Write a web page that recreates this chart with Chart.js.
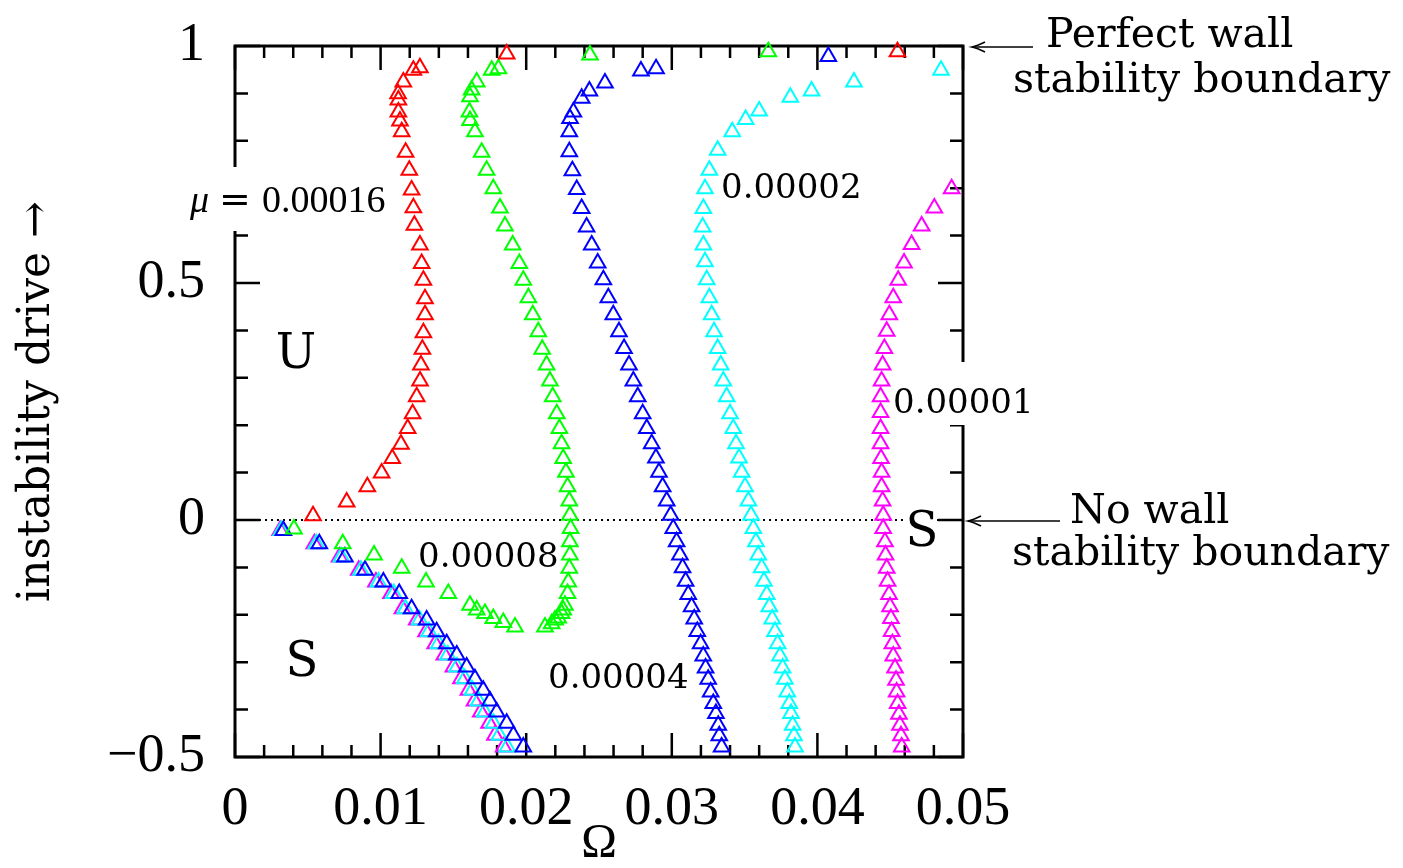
<!doctype html>
<html>

<head>
    <title>Stability boundaries</title>
    <meta http-equiv="Content-Type" content="text/html;charset=UTF-8">
    <script src="https://cdn.jsdelivr.net/npm/chart.js@4/dist/chart.umd.min.js"></script>
    <style>
        body { margin: 0; background: #fff; }
        canvas { display: block; }
    </style>
</head>

<body>
    <canvas id="grafico" width="1403" height="868"></canvas>
</body>
<script>

    // [Omega, instability drive] for each wall parameter mu
    var mu00016 = [
        [0.00536, 0.009], [0.00767, 0.038], [0.00909, 0.070], [0.01007, 0.099], [0.01080, 0.130],
        [0.01140, 0.160], [0.01186, 0.193], [0.01220, 0.224], [0.01248, 0.260], [0.01271, 0.293],
        [0.01277, 0.327], [0.01287, 0.360], [0.01294, 0.395], [0.01305, 0.433], [0.01305, 0.467],
        [0.01294, 0.506], [0.01282, 0.541], [0.01270, 0.580], [0.01232, 0.622], [0.01225, 0.659],
        [0.01213, 0.696], [0.01197, 0.738], [0.01172, 0.776], [0.01145, 0.819], [0.01133, 0.842],
        [0.01122, 0.861], [0.01122, 0.886], [0.01120, 0.899], [0.01156, 0.924], [0.01225, 0.949],
        [0.01270, 0.954], [0.01866, 0.983], [0.04550, 0.988]
    ];

    var mu00008 = [
        [0.03663, 0.988], [0.02438, 0.981], [0.01809, 0.952], [0.01763, 0.949], [0.01660, 0.924],
        [0.01625, 0.907], [0.01614, 0.893], [0.01610, 0.861], [0.01614, 0.843], [0.01648, 0.819],
        [0.01694, 0.776], [0.01728, 0.738], [0.01774, 0.699], [0.01820, 0.658], [0.01854, 0.620],
        [0.01907, 0.580], [0.01953, 0.541], [0.01980, 0.506], [0.02015, 0.469], [0.02045, 0.433],
        [0.02083, 0.397], [0.02110, 0.360], [0.02140, 0.327], [0.02163, 0.293], [0.02182, 0.260],
        [0.02210, 0.224], [0.02228, 0.193], [0.02243, 0.161], [0.02254, 0.130], [0.02273, 0.101],
        [0.02284, 0.070], [0.02296, 0.040], [0.02300, 0.010], [0.02305, -0.018], [0.02300, -0.046],
        [0.02300, -0.074], [0.02296, -0.102], [0.02289, -0.131], [0.02284, -0.155], [0.02266, -0.180],
        [0.02254, -0.190], [0.02243, -0.197], [0.02220, -0.207], [0.02198, -0.211], [0.02175, -0.219],
        [0.02129, -0.226], [0.01923, -0.226], [0.01843, -0.216], [0.01774, -0.208], [0.01717, -0.197],
        [0.01660, -0.190], [0.01614, -0.180], [0.01465, -0.155], [0.01312, -0.131], [0.01145, -0.102],
        [0.00955, -0.074], [0.00740, -0.050], [0.00405, -0.019]
    ];

    var mu00004 = [
        [0.04075, 0.978], [0.02892, 0.952], [0.02788, 0.947], [0.02541, 0.922], [0.02434, 0.905],
        [0.02381, 0.890], [0.02324, 0.861], [0.02301, 0.847], [0.02296, 0.819], [0.02296, 0.777],
        [0.02317, 0.737], [0.02347, 0.697], [0.02381, 0.657], [0.02415, 0.618], [0.02450, 0.580],
        [0.02491, 0.542], [0.02530, 0.507], [0.02564, 0.469], [0.02598, 0.433], [0.02637, 0.397],
        [0.02672, 0.362], [0.02706, 0.327], [0.02736, 0.293], [0.02766, 0.260], [0.02800, 0.224],
        [0.02828, 0.193], [0.02862, 0.161], [0.02891, 0.131], [0.02912, 0.101], [0.02937, 0.070],
        [0.02965, 0.040], [0.02992, 0.010], [0.03010, -0.018], [0.03033, -0.046], [0.03056, -0.074],
        [0.03074, -0.101], [0.03095, -0.129], [0.03113, -0.157], [0.03136, -0.183], [0.03154, -0.209],
        [0.03175, -0.235], [0.03198, -0.261], [0.03216, -0.287], [0.03232, -0.312], [0.03250, -0.336],
        [0.03267, -0.363], [0.03285, -0.387], [0.03303, -0.408], [0.03319, -0.433], [0.03326, -0.455],
        [0.03342, -0.479],
        // low-frequency branch
        [0.00332, -0.022], [0.00579, -0.050], [0.00755, -0.078], [0.00893, -0.106], [0.01019, -0.131],
        [0.01128, -0.155], [0.01213, -0.187], [0.01316, -0.211], [0.01385, -0.236], [0.01454, -0.261],
        [0.01523, -0.285], [0.01591, -0.310], [0.01648, -0.335], [0.01705, -0.359], [0.01751, -0.382],
        [0.01797, -0.405], [0.01866, -0.429], [0.01912, -0.454], [0.01980, -0.479]
    ];

    var mu00002 = [
        [0.04849, 0.949], [0.04251, 0.924], [0.03960, 0.905], [0.03814, 0.892], [0.03600, 0.863],
        [0.03507, 0.845], [0.03415, 0.819], [0.03315, 0.780], [0.03258, 0.738], [0.03228, 0.699],
        [0.03217, 0.657], [0.03212, 0.618], [0.03217, 0.580], [0.03228, 0.545], [0.03240, 0.507],
        [0.03258, 0.469], [0.03274, 0.433], [0.03290, 0.397], [0.03315, 0.362], [0.03336, 0.327],
        [0.03354, 0.293], [0.03377, 0.260], [0.03400, 0.224], [0.03422, 0.193], [0.03441, 0.161],
        [0.03462, 0.131], [0.03480, 0.101], [0.03503, 0.070], [0.03526, 0.040], [0.03544, 0.010],
        [0.03560, -0.018], [0.03578, -0.046], [0.03594, -0.074], [0.03617, -0.101], [0.03633, -0.129],
        [0.03652, -0.157], [0.03670, -0.183], [0.03690, -0.209], [0.03709, -0.235], [0.03727, -0.261],
        [0.03743, -0.287], [0.03761, -0.312], [0.03777, -0.336], [0.03793, -0.363], [0.03807, -0.387],
        [0.03819, -0.408], [0.03830, -0.433], [0.03839, -0.455], [0.03846, -0.479],
        // low-frequency branch
        [0.00318, -0.022], [0.00558, -0.050], [0.00730, -0.078], [0.00865, -0.106], [0.00985, -0.131],
        [0.01090, -0.155], [0.01170, -0.187], [0.01268, -0.211], [0.01332, -0.236], [0.01398, -0.261],
        [0.01462, -0.285], [0.01525, -0.310], [0.01578, -0.335], [0.01630, -0.359], [0.01672, -0.382],
        [0.01715, -0.405], [0.01775, -0.429], [0.01815, -0.454], [0.01870, -0.479]
    ];

    var mu00001 = [
        [0.04922, 0.699], [0.04803, 0.658], [0.04716, 0.620], [0.04647, 0.581], [0.04595, 0.542],
        [0.04555, 0.506], [0.04521, 0.469], [0.04494, 0.433], [0.04476, 0.398], [0.04460, 0.362],
        [0.04448, 0.327], [0.04441, 0.293], [0.04434, 0.260], [0.04434, 0.227], [0.04434, 0.193],
        [0.04434, 0.161], [0.04437, 0.130], [0.04441, 0.101], [0.04441, 0.070], [0.04448, 0.040],
        [0.04452, 0.010], [0.04452, -0.018], [0.04464, -0.046], [0.04468, -0.074], [0.04476, -0.102],
        [0.04482, -0.129], [0.04492, -0.157], [0.04499, -0.183], [0.04505, -0.208], [0.04510, -0.235],
        [0.04515, -0.261], [0.04521, -0.287], [0.04533, -0.312], [0.04540, -0.338], [0.04544, -0.363],
        [0.04551, -0.387], [0.04560, -0.410], [0.04567, -0.433], [0.04574, -0.455], [0.04579, -0.479],
        // low-frequency branch
        [0.00310, -0.022], [0.00545, -0.050], [0.00718, -0.078], [0.00850, -0.106], [0.00968, -0.131],
        [0.01072, -0.155], [0.01150, -0.187], [0.01248, -0.211], [0.01312, -0.236], [0.01375, -0.261],
        [0.01438, -0.285], [0.01500, -0.310], [0.01552, -0.335], [0.01603, -0.359], [0.01645, -0.382],
        [0.01688, -0.405], [0.01745, -0.429], [0.01785, -0.454], [0.01845, -0.479]
    ];

    var xTicks = [0, 0.01, 0.02, 0.03, 0.04, 0.05];
    var xTickLabels = ['0', '0.01', '0.02', '0.03', '0.04', '0.05'];
    var yTicks = [-0.5, 0, 0.5, 1];
    var yTickLabels = ['\u22120.5', '0', '0.5', '1'];

    function serie(pontos, cor) {
        return {
            data: pontos.map(p => ({ x: p[0], y: p[1] })),
            borderColor: cor,
            backgroundColor: 'rgba(0,0,0,0)',
            pointStyle: 'triangle',
            pointRadius: 9,
            pointHoverRadius: 9,
            pointBorderWidth: 2,
            showLine: false,
            clip: false
        };
    }

    function texto(ctx, s, x, y, fonte, alinha) {
        ctx.font = fonte;
        ctx.textAlign = alinha || 'left';
        ctx.textBaseline = 'alphabetic';
        ctx.fillText(s, x, y);
    }

    function seta(ctx, ponta, cauda, y) {
        ctx.lineWidth = 1.5;
        ctx.beginPath();
        ctx.moveTo(cauda, y);
        ctx.lineTo(ponta, y);
        ctx.stroke();
        ctx.beginPath();
        ctx.moveTo(ponta + 13, y - 5);
        ctx.quadraticCurveTo(ponta + 5, y - 1, ponta, y);
        ctx.quadraticCurveTo(ponta + 5, y + 1, ponta + 13, y + 5);
        ctx.stroke();
    }

    var moldura = {
        id: 'moldura',
        beforeDatasetsDraw(chart) {
            var ctx = chart.ctx, a = chart.chartArea, sx = chart.scales.x, sy = chart.scales.y;
            ctx.save();
            ctx.strokeStyle = '#000';

            // dotted no-wall line at zero drive
            var y0 = sy.getPixelForValue(0);
            ctx.lineWidth = 2;
            ctx.setLineDash([2, 4]);
            ctx.beginPath();
            ctx.moveTo(a.left + 6, y0);
            ctx.lineTo(a.right, y0);
            ctx.stroke();
            ctx.setLineDash([]);

            // inward ticks on all four sides
            ctx.lineWidth = 2.5;
            ctx.beginPath();
            for (var i = 0; i <= 25; i++) {
                var px = sx.getPixelForValue(i * 0.002);
                var lx = i % 5 === 0 ? 24 : 12;
                ctx.moveTo(px, a.bottom); ctx.lineTo(px, a.bottom - lx);
                ctx.moveTo(px, a.top); ctx.lineTo(px, a.top + lx);
            }
            for (var j = 0; j <= 15; j++) {
                var py = sy.getPixelForValue(-0.5 + j * 0.1);
                var ly = j % 5 === 0 ? 25 : 13;
                ctx.moveTo(a.left, py); ctx.lineTo(a.left + ly, py);
                ctx.moveTo(a.right, py); ctx.lineTo(a.right - ly, py);
            }
            ctx.stroke();

            ctx.lineWidth = 3;
            ctx.strokeRect(a.left, a.top, a.right - a.left, a.bottom - a.top);
            ctx.restore();
        },
        afterDatasetsDraw(chart) {
            var ctx = chart.ctx, a = chart.chartArea, sy = chart.scales.y;
            ctx.save();
            ctx.fillStyle = '#fff';
            ctx.fillRect(184, 167, 212, 64);
            ctx.fillRect(893, 362, 145, 63);
            ctx.fillRect(907, 505, 30, 45);

            ctx.fillStyle = '#000';
            ctx.strokeStyle = '#000';
            texto(ctx, '\u03bc', 190, 212, 'italic 38px "Liberation Serif"');
            texto(ctx, '=', 219, 212, '38px "DejaVu Serif"');
            texto(ctx, '0.00016', 262, 212, '38px "Liberation Serif"');

            var num = '34px "DejaVu Serif"';
            texto(ctx, '0.00008', 418, 567, num);
            texto(ctx, '0.00004', 548, 688, num);
            texto(ctx, '0.00002', 721, 198, num);
            texto(ctx, '0.00001', 893, 413, num);

            var regiao = '48px "DejaVu Serif"';
            texto(ctx, 'U', 296, 368, regiao, 'center');
            texto(ctx, 'S', 302, 676, regiao, 'center');
            texto(ctx, 'S', 922, 546, regiao, 'center');

            var nota = '41px "DejaVu Serif"';
            var yTopo = sy.getPixelForValue(1), yZero = sy.getPixelForValue(0);
            seta(ctx, a.right + 9, 1033, yTopo + 1);
            texto(ctx, 'Perfect wall', 1046, 47, nota);
            texto(ctx, 'stability boundary', 1013, 92, nota);
            seta(ctx, a.right + 5, 1060, yZero + 1);
            texto(ctx, 'No wall', 1070, 523, nota);
            texto(ctx, 'stability boundary', 1012, 565, nota);
            ctx.restore();
        }
    };

    var contexto = document.getElementById('grafico');

    var grafico = new Chart(contexto, {
        type: 'scatter',
        data: {
            datasets: [
                serie(mu00016, '#ff0000'),
                serie(mu00008, '#00ff00'),
                serie(mu00004, '#0000ff'),
                serie(mu00002, '#00ffff'),
                serie(mu00001, '#ff00ff')
            ]
        },
        options: {
            responsive: false,
            animation: false,
            layout: { padding: { top: 46, right: 440, left: 0, bottom: 0 } },
            plugins: {
                legend: { display: false },
                tooltip: { enabled: false }
            },
            scales: {
                x: {
                    type: 'linear',
                    min: 0,
                    max: 0.05,
                    afterBuildTicks: s => { s.ticks = xTicks.map(v => ({ value: v })); },
                    afterFit: s => { s.height = 111; s.paddingLeft = 0; s.paddingRight = 0; },
                    grid: { display: false, drawTicks: false },
                    border: { display: false },
                    ticks: {
                        color: '#000',
                        padding: 20,
                        maxRotation: 0,
                        font: { family: 'Liberation Serif', size: 54 },
                        callback: (v, i) => xTickLabels[i]
                    },
                    title: {
                        display: true,
                        text: '\u03a9',
                        color: '#000',
                        padding: 0,
                        font: { family: 'Liberation Serif', size: 48, lineHeight: 1 }
                    }
                },
                y: {
                    type: 'linear',
                    min: -0.5,
                    max: 1,
                    afterBuildTicks: s => { s.ticks = yTicks.map(v => ({ value: v })); },
                    afterFit: s => { s.width = 235; s.paddingTop = 0; s.paddingBottom = 0; },
                    grid: { display: false, drawTicks: false },
                    border: { display: false },
                    ticks: {
                        color: '#000',
                        padding: 30,
                        font: { family: 'Liberation Serif', size: 54 },
                        callback: (v, i) => yTickLabels[i]
                    },
                    title: {
                        display: true,
                        text: 'instability drive \u2192',
                        color: '#000',
                        padding: { top: 16, bottom: 0 },
                        font: { family: 'DejaVu Serif', size: 44, lineHeight: 1 }
                    }
                }
            }
        },
        plugins: [moldura]
    });
</script>

</html>
